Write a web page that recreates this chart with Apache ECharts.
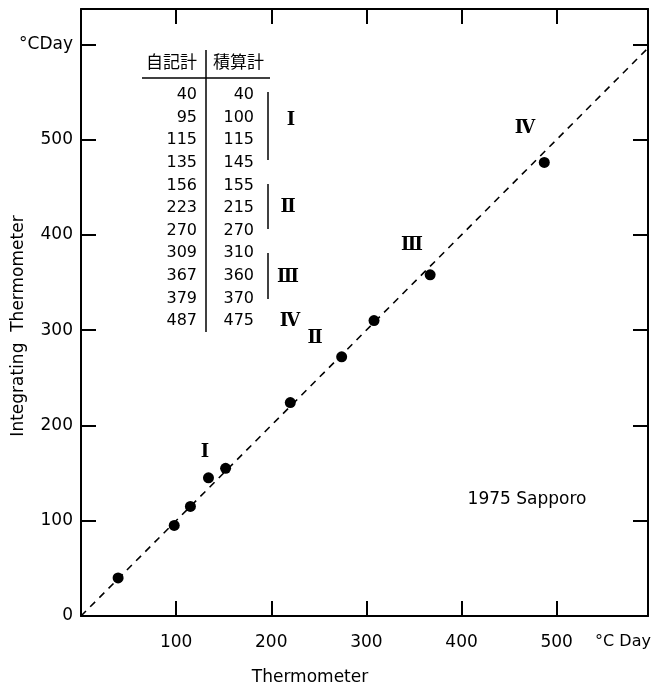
<!DOCTYPE html>
<html>
<head>
<meta charset="utf-8">
<script src="https://cdn.jsdelivr.net/npm/echarts@6/dist/echarts.min.js"></script>
<style>html,body{margin:0;padding:0;background:#fff}#c{width:652px;height:691px}</style>
</head>
<body>
<div id="c"></div>
<script>
// Plotted points (Thermometer, Integrating Thermometer)
var thermoX = [39, 98, 115, 134, 152, 220, 274, 308, 367, 487];
var integrY = [40, 95, 115, 145, 155, 224, 272, 310, 358, 476];
// Table in the upper-left
var tableHeaders = ['自記計', '積算計'];
var tableThermo = [40, 95, 115, 135, 156, 223, 270, 309, 367, 379, 487];
var tableIntegr = [40, 100, 115, 145, 155, 215, 270, 310, 360, 370, 475];
var groupLabels = ['Ⅰ', 'Ⅱ', 'Ⅲ', 'Ⅳ'];
// Axis
var xMax = 596, yMax = 637;
var unitLabel = '°C Day';
var yUnitLabel = '°CDay';
var xTitle = 'Thermometer';
var yTitle = 'Integrating  Thermometer';
var noteText = '1975 Sapporo';

var FONT = 'DejaVu Sans';
var ROMAN = 'DejaVu Serif';
var chart = echarts.init(document.getElementById('c'));

var pts = thermoX.map(function (x, i) { return [x, integrY[i]]; });

var graphic = [];
// table
var rowY0 = 95, rowDY = 22.6;
graphic.push({type:'text', left:146, top:53, style:{text:tableHeaders[0], font:'17px "Noto Sans CJK JP"', fill:'#000'}});
graphic.push({type:'text', left:213, top:53, style:{text:tableHeaders[1], font:'17px "Noto Sans CJK JP"', fill:'#000'}});
graphic.push({type:'line', shape:{x1:142, y1:78, x2:270, y2:78}, style:{stroke:'#000', lineWidth:1.5}});
graphic.push({type:'line', shape:{x1:206, y1:50, x2:206, y2:332}, style:{stroke:'#000', lineWidth:1.5}});
tableThermo.forEach(function (v, i) {
  graphic.push({type:'text', x:197, y:rowY0 + i*rowDY, style:{text:String(v), font:'16px "'+FONT+'"', fill:'#000', align:'right', verticalAlign:'middle'}});
  graphic.push({type:'text', x:254, y:rowY0 + i*rowDY, style:{text:String(tableIntegr[i]), font:'16px "'+FONT+'"', fill:'#000', align:'right', verticalAlign:'middle'}});
});
// brackets
[[92,160],[184,229],[253,299]].forEach(function (b) {
  graphic.push({type:'line', shape:{x1:268, y1:b[0], x2:268, y2:b[1]}, style:{stroke:'#000', lineWidth:1.5}});
});
function roman(txt, x, y) {
  graphic.push({type:'text', x:x, y:y, style:{text:txt, font:'bold 18px "'+ROMAN+'"', fill:'#000', align:'center', verticalAlign:'middle'}});
}
roman(groupLabels[0], 291, 120);
roman(groupLabels[1], 288, 207);
roman(groupLabels[2], 288, 277);
roman(groupLabels[3], 290, 321);
// in-plot group labels
roman(groupLabels[0], 205, 452);
roman(groupLabels[1], 315, 338);
roman(groupLabels[2], 412, 245);
roman(groupLabels[3], 525, 128);
// note
graphic.push({type:'text', x:527, y:500, style:{text:noteText, font:'17px "'+FONT+'"', fill:'#000', align:'center', verticalAlign:'middle'}});
// axis titles
graphic.push({type:'text', x:623, y:642, style:{text:unitLabel, font:'16px "'+FONT+'"', fill:'#000', align:'center', verticalAlign:'middle'}});
graphic.push({type:'text', x:310, y:678, style:{text:xTitle, font:'17px "'+FONT+'"', fill:'#000', align:'center', verticalAlign:'middle'}});
graphic.push({type:'text', x:19, y:326, rotation:Math.PI/2, style:{text:yTitle, font:'17px "'+FONT+'"', fill:'#000', align:'center', verticalAlign:'middle'}});

function axisCommon() {
  return {
    type:'value', min:0, interval:100,
    splitLine:{show:false},
    axisLine:{show:true, onZero:false, lineStyle:{color:'#000', width:2}},
    axisTick:{show:true, inside:true, length:15, lineStyle:{color:'#000', width:2}}
  };
}

chart.setOption({
  animation:false,
  backgroundColor:'#fff',
  grid:{left:81, right:4, top:9, bottom:75},
  xAxis:[
    Object.assign(axisCommon(), {max:xMax, position:'bottom',
      axisLabel:{show:true, margin:18, fontFamily:FONT, fontSize:17, color:'#000',
        formatter:function (v) { return (v > 0 && v % 100 === 0) ? String(v) : ''; }}}),
    Object.assign(axisCommon(), {max:xMax, position:'top', axisLabel:{show:false}})
  ],
  yAxis:[
    Object.assign(axisCommon(), {max:yMax, position:'left',
      axisLabel:{show:true, margin:8, fontFamily:FONT, fontSize:17, color:'#000',
        formatter:function (v) { if (v === 600) return yUnitLabel; return (v % 100 === 0) ? String(v) : ''; }}}),
    Object.assign(axisCommon(), {max:yMax, position:'right', axisLabel:{show:false}})
  ],
  series:[
    {type:'line', data:[[0,0],[xMax,xMax]], symbol:'none', silent:true,
      lineStyle:{color:'#000', width:1.6, type:[7,6]}, z:1},
    {type:'scatter', data:pts, symbol:'circle', symbolSize:11,
      itemStyle:{color:'#000', opacity:1}, z:3}
  ],
  graphic:graphic
});
</script>
</body>
</html>
